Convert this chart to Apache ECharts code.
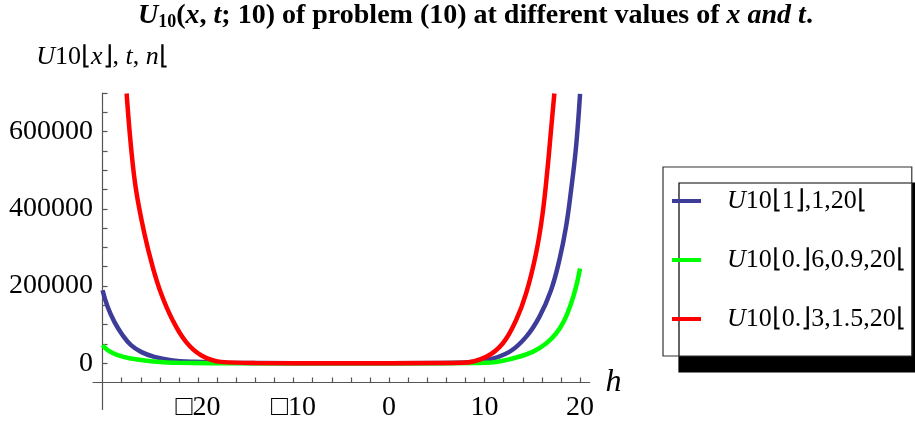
<!DOCTYPE html>
<html><head><meta charset="utf-8">
<script src="https://cdn.jsdelivr.net/npm/echarts@6/dist/echarts.min.js"></script>
<style>html,body{margin:0;padding:0;background:#fff}#c{width:915px;height:421px}</style>
</head><body><div id="c"></div>
<script>
// ---- data ----
const seriesNames = ['U10⌊1⌋,1,20⌊', 'U10⌊0.⌋6,0.9,20⌊', 'U10⌊0.⌋3,1.5,20⌊'];

const hBlue = [-30, -29.47, -28.76, -27.9, -27.02, -25.97, -24.58, -22.83, -20.39, -17, -10, 0, 7, 10.16, 12.6, 14.35, 15.74, 16.96, 17.83, 18.53, 19.06, 19.58, 20];
const uBlue = [189000, 146000, 107000, 72500, 46600, 29300, 16300, 7800, 3400, 1000, 0, 0, 1000, 7800, 29300, 68100, 119900, 189100, 266800, 353100, 448200, 560400, 698000];

const hGreen = [-30, -29.47, -28.42, -27.02, -24.92, -22.14, -15, 0, 5, 10.16, 12.94, 15.04, 16.44, 17.49, 18.36, 19.06, 19.58, 20];
const uGreen = [46600, 33700, 20700, 12200, 5200, 800, 0, 0, 0, 800, 12200, 29300, 51000, 76900, 111400, 154700, 197700, 245300];

const hRed = [-27.48, -27.02, -26.49, -25.62, -24.75, -23.87, -22.66, -21.26, -19.69, -17.59, -14, -5, 5, 7.71, 10.16, 11.9, 13.3, 14.35, 15.39, 16.08, 16.61, 16.96, 17.31];
const uRed = [698700, 560400, 448200, 336000, 249500, 180600, 111400, 55200, 20700, 3400, 300, 0, 200, 800, 16300, 51000, 111400, 180600, 284200, 387800, 508500, 603600, 698700];

const xTickValues = [-28, -26, -24, -22, -20, -18, -16, -14, -12, -10, -8, -6, -4, -2, 0, 2, 4, 6, 8, 10, 12, 14, 16, 18, 20];
const xLabelValues = [-20, -10, 0, 10, 20];
const yTickValues = [0, 50000, 100000, 150000, 200000, 250000, 300000, 350000, 400000, 450000, 500000, 550000, 600000, 650000, 700000];
const yLabelValues = [0, 200000, 400000, 600000];

// ---- chart ----
const SERIF = 'Liberation Serif';
const pairs = (xs, ys) => xs.map((x, i) => [x, ys[i]]);
const colors = ['#3d3d99', '#00ff00', '#ff0000'];
const dataSets = [pairs(hBlue, uBlue), pairs(hGreen, uGreen), pairs(hRed, uRed)];

const chart = echarts.init(document.getElementById('c'), null, {renderer: 'canvas'});
const axisLineStyle = {color: '#555', width: 1.2};

chart.setOption({
  animation: false,
  backgroundColor: '#fff',
  title: {
    text: '{bi|U}{sub|10}{b|(}{bi|x}{b|, }{bi|t}{b|; 10) of problem (10) at different values of }{bi|x and t}{b|.}',
    left: 133, top: -4,
    textStyle: {
      rich: {
        b: {fontFamily: SERIF, fontWeight: 'bold', fontSize: 28, color: '#000'},
        bi: {fontFamily: SERIF, fontWeight: 'bold', fontStyle: 'italic', fontSize: 28, color: '#000'},
        sub: {fontFamily: SERIF, fontWeight: 'bold', fontSize: 18, color: '#000', padding: [12, 0, 0, 0]}
      }
    }
  },
  grid: {left: 93, top: 93, width: 496.6, height: 316.5, containLabel: false, outerBoundsMode: 'none'},
  legend: {
    orient: 'vertical', left: 663, top: 167,
    padding: [17, 6, 20, 9],
    itemGap: 25,
    itemWidth: 29, itemHeight: 4, icon: 'rect',
    backgroundColor: '#fff', borderColor: '#333', borderWidth: 1.2, borderRadius: 0,
    shadowColor: '#000', shadowBlur: 0, shadowOffsetX: 16, shadowOffsetY: 16,
    data: seriesNames,
    formatter: name => '{i|U}{n|' + name.slice(1) + '}',
    textStyle: {
      padding: [0, 0, 0, 21], lineHeight: 34,
      rich: {
        i: {fontFamily: SERIF, fontStyle: 'italic', fontSize: 26, color: '#000'},
        n: {fontFamily: SERIF, fontSize: 26, color: '#000'}
      }
    }
  },
  xAxis: [{
    type: 'value', min: -31, max: 21,
    name: 'h', nameLocation: 'end', nameGap: 16,
    nameTextStyle: {fontFamily: SERIF, fontStyle: 'italic', fontSize: 32, color: '#000', verticalAlign: 'middle', padding: [0, 0, 4, 0]},
    axisLine: {show: true, onZero: true, onZeroAxisIndex: 1, lineStyle: axisLineStyle},
    axisTick: {show: true, inside: true, length: 5, customValues: xTickValues, lineStyle: axisLineStyle},
    axisLabel: {
      customValues: xLabelValues, margin: -16,
      fontFamily: SERIF, fontSize: 28, color: '#000',
      formatter: v => (v < 0 ? '□' + Math.abs(v) : String(v))
    },
    splitLine: {show: false}
  }, {
    type: 'value', min: -1, max: 51, show: false
  }],
  yAxis: [{
    type: 'value', min: -120000, max: 700000,
    name: '{i|U}{n|10⌊}{i|x}{n|⌋, }{i|t}{n|, }{i|n}{n|⌊}',
    nameLocation: 'end', nameGap: 23,
    nameTextStyle: {
      align: 'center',
      rich: {
        i: {fontFamily: SERIF, fontStyle: 'italic', fontSize: 26, color: '#000'},
        n: {fontFamily: SERIF, fontSize: 26, color: '#000'}
      }
    },
    axisLine: {show: true, onZero: true, onZeroAxisIndex: 1, lineStyle: axisLineStyle},
    axisTick: {show: true, inside: true, length: 5, customValues: yTickValues, lineStyle: axisLineStyle},
    axisLabel: {customValues: yLabelValues, margin: 0, fontFamily: SERIF, fontSize: 28, color: '#000', formatter: v => String(v)},
    splitLine: {show: false}
  }, {
    type: 'value', min: -70000, max: 750000, show: false
  }],
  series: seriesNames.map((name, i) => ({
    name: name, type: 'line', xAxisIndex: 0, yAxisIndex: 0,
    data: dataSets[i], smooth: 0.4,
    showSymbol: false, symbol: 'none', clip: true,
    lineStyle: {color: colors[i], width: 4.5},
    itemStyle: {color: colors[i]}
  }))
});
</script></body></html>
